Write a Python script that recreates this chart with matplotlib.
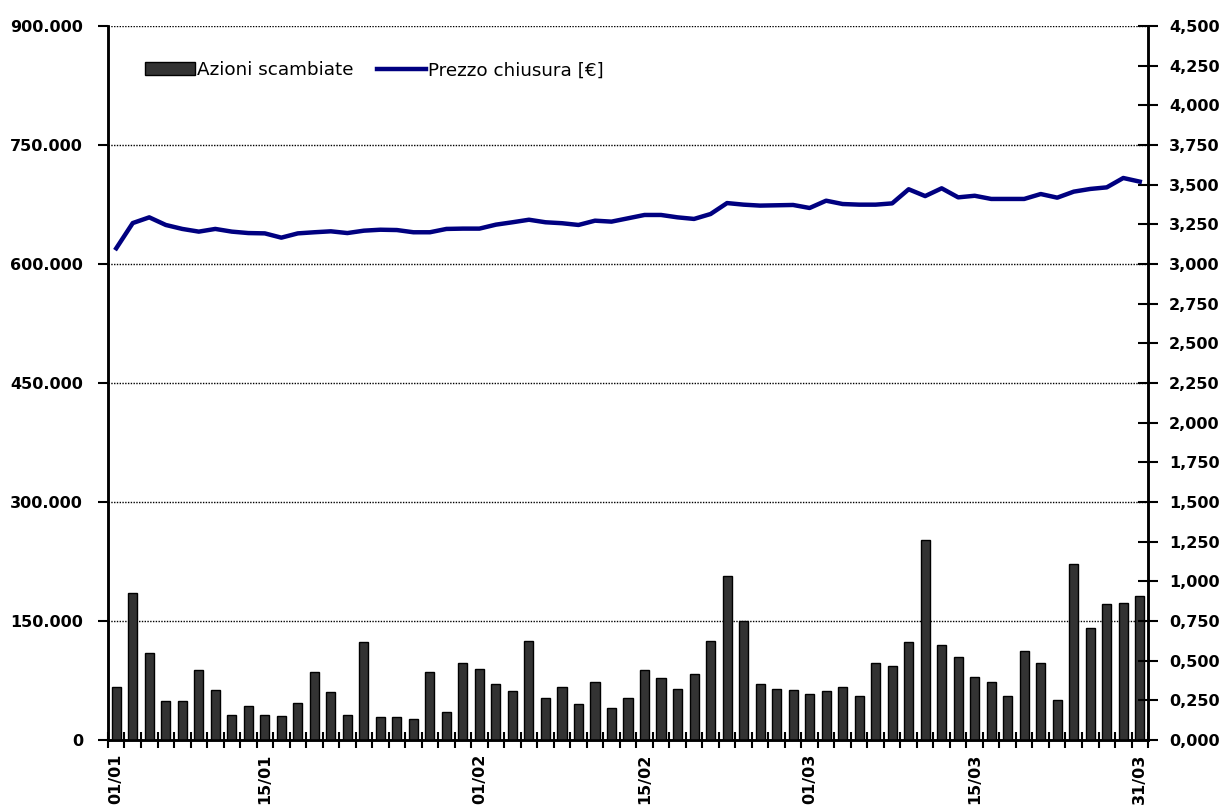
import matplotlib.pyplot as plt
import numpy as np
from matplotlib.ticker import FuncFormatter, MultipleLocator, FixedLocator, NullLocator

# Volumi giornalieri (azioni scambiate) e prezzo di chiusura, 1° trimestre
volumi = [67000, 185000, 110000, 49400, 49400, 88400, 63300, 31800, 43200, 31800,
          30600, 46900, 85900, 60800, 31800, 123600, 29300, 29300, 26800, 85900,
          35600, 97200, 89700, 70800, 62000, 124900, 53200, 67000, 45700, 73300,
          40600, 53200, 88400, 78400, 64500, 83400, 124900, 206600, 150000, 70800,
          64500, 63300, 58200, 62000, 67000, 55700, 97200, 93400, 123600, 252700,
          119800, 104800, 79600, 73300, 55700, 112300, 97200, 50700, 221700, 141200,
          171400, 172600, 181400]
prezzi = [3.099, 3.258, 3.294, 3.246, 3.221, 3.204, 3.221, 3.204, 3.195, 3.193,
          3.166, 3.193, 3.200, 3.206, 3.195, 3.210, 3.216, 3.214, 3.200, 3.200,
          3.221, 3.223, 3.223, 3.248, 3.263, 3.279, 3.263, 3.257, 3.246, 3.273,
          3.267, 3.288, 3.309, 3.309, 3.294, 3.284, 3.315, 3.384, 3.374, 3.368,
          3.370, 3.372, 3.353, 3.399, 3.378, 3.374, 3.374, 3.382, 3.471, 3.428,
          3.477, 3.420, 3.430, 3.410, 3.410, 3.410, 3.441, 3.418, 3.456, 3.473,
          3.483, 3.542, 3.519]
etichette = ['01/01', '15/01', '01/02', '15/02', '01/03', '15/03', '31/03']
pos_etichette = [0, 9, 22, 32, 42, 52, 62]

plt.rcParams['font.family'] = 'DejaVu Sans'

fig = plt.figure(figsize=(12.23, 8.07), dpi=100)
ax = fig.add_axes([0.0883, 0.0830, 0.8504, 0.8848])
ax2 = ax.twinx()

x = np.arange(len(volumi))
barre = ax.bar(x, volumi, width=0.55, color='#333333', edgecolor='black',
               linewidth=1.0, label='Azioni scambiate', zorder=3)
linea, = ax2.plot(x, prezzi, color='#000080', linewidth=3.2,
                  solid_joinstyle='round', label='Prezzo chiusura [€]')

ax.set_xlim(-0.5, len(volumi) - 0.5)
ax.set_ylim(0, 900000)
ax2.set_ylim(0, 4.5)

# asse sinistro: volumi
ax.yaxis.set_major_locator(MultipleLocator(150000))
ax.yaxis.set_minor_locator(NullLocator())
ax.yaxis.set_major_formatter(FuncFormatter(lambda v, p: f'{int(v):,}'.replace(',', '.')))
ax.grid(axis='y', color='black', linestyle=(0, (1, 1)), linewidth=1.0, zorder=0)
ax.set_axisbelow(True)
ax.tick_params(axis='y', direction='out', length=7, width=1.5, pad=11,
               labelsize=11.5)

# asse destro: prezzo
ax2.yaxis.set_major_locator(MultipleLocator(0.25))
ax2.yaxis.set_minor_locator(NullLocator())
ax2.yaxis.set_major_formatter(FuncFormatter(lambda v, p: f'{v:.3f}'.replace('.', ',')))
ax2.tick_params(axis='y', direction='inout', length=14, width=1.5, pad=8,
                labelsize=11.5)

# asse x: etichette sulle date, tacche tra le barre
ax.xaxis.set_major_locator(FixedLocator(pos_etichette))
ax.set_xticklabels(etichette, rotation=90, fontsize=11.5, fontweight='bold')
ax.xaxis.set_minor_locator(FixedLocator(np.arange(-0.5, len(volumi), 1.0)))
ax.tick_params(axis='x', which='major', length=0, pad=10)
ax.tick_params(axis='x', which='minor', direction='inout', length=12, width=1.5)

for lab in ax.get_yticklabels() + ax2.get_yticklabels():
    lab.set_fontweight('bold')

for a in (ax, ax2):
    a.spines['top'].set_visible(False)
    for s in ('left', 'right', 'bottom'):
        a.spines[s].set_linewidth(1.8)
        a.spines[s].set_color('black')

ax.legend([barre, linea], ['Azioni scambiate', 'Prezzo chiusura [€]'],
          loc='center left', bbox_to_anchor=(0.02, 0.938), ncol=2,
          frameon=False, fontsize=13.2, handlelength=2.7, handleheight=0.7,
          handletextpad=0.1, columnspacing=1.3)

fig.savefig('out.png', dpi=100)
